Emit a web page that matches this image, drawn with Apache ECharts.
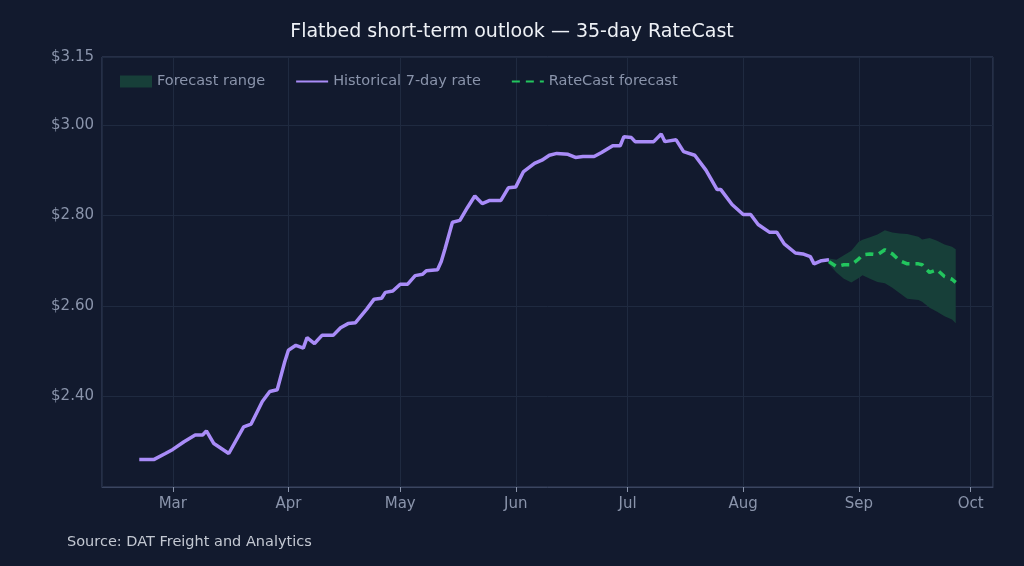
<!DOCTYPE html>
<html>
<head>
<meta charset="utf-8">
<script src="https://cdn.jsdelivr.net/npm/echarts@6/dist/echarts.min.js"></script>
<style>
  html, body { margin: 0; padding: 0; background: #121a2e; }
  #chart { width: 1024px; height: 566px; }
</style>
</head>
<body>
<div id="chart"></div>
<script>
// historical 7-day rate
const histDates = [
  "2025-02-20", "2025-02-24", "2025-02-27", "2025-03-01", "2025-03-04", "2025-03-07",
  "2025-03-09", "2025-03-10", "2025-03-12", "2025-03-14", "2025-03-16", "2025-03-20",
  "2025-03-22", "2025-03-25", "2025-03-27", "2025-03-29", "2025-03-31", "2025-04-01",
  "2025-04-03", "2025-04-05", "2025-04-06", "2025-04-08", "2025-04-10", "2025-04-13",
  "2025-04-15", "2025-04-17", "2025-04-19", "2025-04-22", "2025-04-24", "2025-04-26",
  "2025-04-27", "2025-04-29", "2025-05-01", "2025-05-03", "2025-05-05", "2025-05-07",
  "2025-05-08", "2025-05-11", "2025-05-12", "2025-05-13", "2025-05-15", "2025-05-17",
  "2025-05-19", "2025-05-21", "2025-05-23", "2025-05-25", "2025-05-28", "2025-05-30",
  "2025-06-01", "2025-06-03", "2025-06-06", "2025-06-08", "2025-06-10", "2025-06-12",
  "2025-06-15", "2025-06-17", "2025-06-19", "2025-06-22", "2025-06-24", "2025-06-27",
  "2025-06-29", "2025-06-30", "2025-07-02", "2025-07-03", "2025-07-05", "2025-07-08",
  "2025-07-10", "2025-07-11", "2025-07-14", "2025-07-16", "2025-07-19", "2025-07-22",
  "2025-07-25", "2025-07-26", "2025-07-29", "2025-08-01", "2025-08-03", "2025-08-05",
  "2025-08-08", "2025-08-10", "2025-08-12", "2025-08-15", "2025-08-17", "2025-08-19",
  "2025-08-20", "2025-08-22", "2025-08-24"
];
const histRates = [
  2.261, 2.261, 2.274, 2.283, 2.300, 2.315,
  2.315, 2.324, 2.296, 2.285, 2.274, 2.333,
  2.339, 2.389, 2.411, 2.415, 2.476, 2.502,
  2.513, 2.507, 2.530, 2.517, 2.535, 2.535,
  2.552, 2.561, 2.563, 2.593, 2.615, 2.617,
  2.630, 2.633, 2.648, 2.648, 2.667, 2.670,
  2.678, 2.680, 2.698, 2.726, 2.785, 2.789,
  2.817, 2.843, 2.826, 2.833, 2.833, 2.861,
  2.863, 2.896, 2.915, 2.922, 2.933, 2.937,
  2.935, 2.928, 2.930, 2.930, 2.939, 2.954,
  2.954, 2.974, 2.972, 2.963, 2.963, 2.963,
  2.980, 2.963, 2.967, 2.941, 2.933, 2.900,
  2.857, 2.857, 2.824, 2.802, 2.802, 2.780,
  2.763, 2.763, 2.737, 2.717, 2.715, 2.709,
  2.693, 2.700, 2.702
];

// 35-day RateCast forecast and its range
const fcDates = [
  "2025-08-24", "2025-08-26", "2025-08-28", "2025-08-30", "2025-09-01", "2025-09-02",
  "2025-09-04", "2025-09-06", "2025-09-08", "2025-09-10", "2025-09-12", "2025-09-14",
  "2025-09-17", "2025-09-18", "2025-09-20", "2025-09-22", "2025-09-24", "2025-09-26",
  "2025-09-27"
];
const fcRates = [
  2.698, 2.687, 2.691, 2.691, 2.704, 2.713,
  2.715, 2.713, 2.724, 2.715, 2.700, 2.693,
  2.693, 2.691, 2.674, 2.680, 2.665, 2.659,
  2.652
];
const fcUpper = [
  2.705, 2.702, 2.712, 2.722, 2.742, 2.746,
  2.752, 2.758, 2.767, 2.762, 2.760, 2.759,
  2.753, 2.747, 2.750, 2.744, 2.736, 2.731,
  2.725
];
const fcLower = [
  2.692, 2.674, 2.660, 2.652, 2.662, 2.668,
  2.660, 2.653, 2.650, 2.640, 2.628, 2.616,
  2.613, 2.609, 2.596, 2.587, 2.577, 2.570,
  2.562
];

const chart = echarts.init(document.getElementById("chart"));
const axisText = "#8a94ab";
const font = "DejaVu Sans";

chart.setOption({
  backgroundColor: "#121a2e",
  title: {
    text: "Flatbed short-term outlook — 35-day RateCast",
    left: "center",
    top: 18,
    textStyle: { color: "#eef1f6", fontSize: 19, fontWeight: "normal", fontFamily: font },
  },
  graphic: [{
    type: "text",
    left: 67,
    top: 535,
    style: { text: "Source: DAT Freight and Analytics", fill: "#c3c8d2", fontSize: 14.5, fontFamily: font },
  }],
  legend: {
    left: 115,
    top: 69,
    itemGap: 30,
    itemWidth: 32,
    itemHeight: 12,
    textStyle: { color: axisText, fontSize: 14.5, fontFamily: font },
    data: [
      { name: "Forecast range", icon: "rect", itemStyle: { color: "#173f39" } },
      { name: "Historical 7-day rate", itemStyle: { opacity: 0 } },
      { name: "RateCast forecast", itemStyle: { opacity: 0 } },
    ],
  },
  grid: {
    left: 102, right: 31, top: 57, bottom: 79,
    show: true, borderColor: "#3a4560", borderWidth: 1,
  },
  xAxis: {
    type: "time",
    min: "2025-02-10",
    max: "2025-10-07",
    splitNumber: 8,
    axisLine: { lineStyle: { color: "#3a4560" } },
    axisTick: { show: true, lineStyle: { color: axisText } },
    axisLabel: {
      color: axisText, fontSize: 15, fontFamily: font, margin: 10,
      formatter: "{MMM}",
    },
    splitLine: { show: true, lineStyle: { color: "#1f2a40" } },
  },
  yAxis: {
    type: "value",
    min: 2.2,
    max: 3.15,
    interval: 0.2,
    axisLine: { show: false },
    axisTick: { show: false },
    axisLabel: {
      color: axisText, fontSize: 15, fontFamily: font,
      formatter: (v) => (v > 2.3 ? "$" + v.toFixed(2) : ""),
    },
    splitLine: { lineStyle: { color: "#1f2a40" } },
  },
  series: [
    {
      name: "range-base",
      type: "line",
      stack: "range",
      symbol: "none",
      lineStyle: { opacity: 0 },
      data: fcDates.map((d, i) => [d, fcLower[i]]),
      silent: true,
    },
    {
      name: "Forecast range",
      type: "line",
      stack: "range",
      symbol: "none",
      lineStyle: { opacity: 0 },
      itemStyle: { color: "#173f39" },
      areaStyle: { color: "#173f39", opacity: 1 },
      data: fcDates.map((d, i) => [d, +(fcUpper[i] - fcLower[i]).toFixed(3)]),
    },
    {
      name: "Historical 7-day rate",
      type: "line",
      symbol: "none",
      itemStyle: { color: "#a98cf8" },
      lineStyle: { color: "#a98cf8", width: 3.5 },
      data: histDates.map((d, i) => [d, histRates[i]]),
    },
    {
      name: "RateCast forecast",
      type: "line",
      symbol: "none",
      itemStyle: { color: "#22c55e" },
      lineStyle: { color: "#22c55e", width: 3.5, type: [8, 6] },
      data: fcDates.map((d, i) => [d, fcRates[i]]),
    },
  ],
});
</script>
</body>
</html>
